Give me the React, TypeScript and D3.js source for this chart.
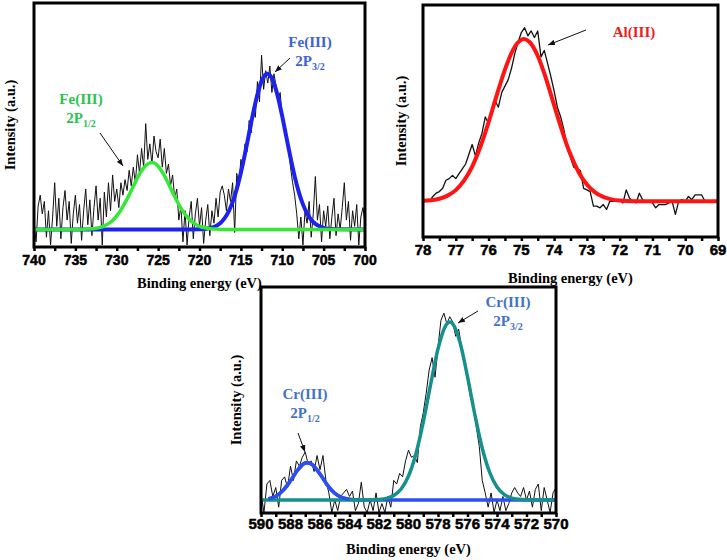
import { useEffect, useRef } from "react"
import * as d3 from "d3"

type Pt = [number, number]

// Fe 2p scan: raw intensity every 0.25 eV from 740 eV down to 700 eV
const feStart = 740
const feStep = -0.25
const feRaw = [
  0.05, -0.08, 0.15, 0.22, 0.10, 0.18, -0.05, 0.12, -0.10, 0.08, 0.30, 0.02,
  0.20, -0.06, 0.14, 0.25, 0.06, 0.18, -0.09, 0.10, 0.22, 0.04, 0.16, -0.07,
  0.12, 0.26, 0.03, 0.19, -0.04, 0.14, 0.28, 0.06, 0.20, -0.10, 0.24, 0.08,
  0.30, 0.12, 0.35, 0.18, 0.26, 0.14, 0.30, 0.22, 0.32, 0.25, 0.38, 0.28,
  0.40, 0.30, 0.48, 0.36, 0.52, 0.40, 0.68, 0.45, 0.55, 0.42, 0.60, 0.50,
  0.46, 0.58, 0.40, 0.52, 0.36, 0.42, 0.28, 0.35, 0.20, 0.26, 0.06, 0.15,
  -0.08, 0.12, -0.10, 0.08, 0.18, -0.06, 0.10, 0.20, 0.02, 0.14, -0.09, 0.06,
  0.16, -0.04, 0.12, 0.04, 0.20, 0.08, 0.24, 0.28, 0.22, 0.12, 0.26, 0.18,
  0.30, -0.02, 0.36, 0.28, 0.45, 0.40, 0.55, 0.50, 0.70, 0.62, 0.78, 0.72,
  0.95, 0.82, 1.12, 0.90, 1.02, 0.94, 1.05, 0.88, 1.00, 0.92, 0.84, 0.88,
  0.72, 0.66, 0.58, 0.52, 0.40, 0.30, 0.22, 0.10, -0.06, 0.08, -0.10, 0.12,
  0.04, 0.18, -0.05, 0.10, 0.34, 0.06, 0.16, -0.08, 0.12, 0.02, 0.15, -0.06,
  0.08, 0.20, -0.04, 0.10, 0.00, 0.14, 0.30, 0.06, 0.18, -0.07, 0.12, 0.02,
  0.16, -0.10, 0.08, 0.14, 0.04,
]

// fitted Fe(III) 2p3/2 component (energy, intensity)
const feBlueFit: Pt[] = [
  [740, 0], [722, 0], [720, 0.001], [719.5, 0.003], [719, 0.006], [718.5, 0.012],
  [718, 0.022], [717.5, 0.040], [717, 0.069], [716.5, 0.113], [716, 0.175],
  [715.5, 0.259], [715, 0.364], [714.5, 0.487], [714, 0.620], [713.5, 0.752],
  [713, 0.867], [712.5, 0.953], [712, 0.996], [711.8, 1.0], [711.5, 0.991],
  [711, 0.939], [710.5, 0.846], [710, 0.726], [709.5, 0.593], [709, 0.461],
  [708.5, 0.341], [708, 0.240], [707.5, 0.161], [707, 0.103], [706.5, 0.062],
  [706, 0.036], [705.5, 0.020], [705, 0.010], [704.5, 0.005], [704, 0.0025],
  [703, 0.0005], [700, 0],
]

// fitted Fe(III) 2p1/2 component
const feGreenFit: Pt[] = [
  [740, 0], [735, 0], [734, 0.001], [733.5, 0.002], [733, 0.004], [732.5, 0.007],
  [732, 0.013], [731.5, 0.023], [731, 0.037], [730.5, 0.058], [730, 0.087],
  [729.5, 0.125], [729, 0.170], [728.5, 0.222], [728, 0.277], [727.5, 0.331],
  [727, 0.377], [726.5, 0.411], [726, 0.428], [725.8, 0.43], [725.5, 0.427],
  [725, 0.406], [724.5, 0.369], [724, 0.321], [723.5, 0.266], [723, 0.211],
  [722.5, 0.160], [722, 0.116], [721.5, 0.081], [721, 0.053], [720.5, 0.034],
  [720, 0.020], [719.5, 0.012], [719, 0.007], [718.5, 0.003], [718, 0.002],
  [717, 0], [700, 0],
]
const feTicks = [740, 735, 730, 725, 720, 715, 710, 705, 700]

// Al 2p scan: raw intensity every 0.1 eV from 78 eV down to 69 eV
const alStart = 78
const alStep = -0.1
const alRaw = [
  0.00, 0.01, 0.00, 0.03, 0.05, 0.06, 0.08, 0.13, 0.14, 0.16,
  0.14, 0.17, 0.20, 0.23, 0.29, 0.35, 0.28, 0.36, 0.42, 0.52,
  0.48, 0.55, 0.62, 0.58, 0.67, 0.71, 0.75, 0.82, 0.91, 0.98,
  1.04, 1.07, 1.02, 1.05, 1.01, 1.05, 0.89, 0.93, 0.85, 0.77,
  0.68, 0.58, 0.52, 0.44, 0.33, 0.27, 0.21, 0.20, 0.19, 0.08,
  0.07, 0.06, -0.03, -0.03, -0.04, -0.02, -0.05, 0.00, 0.00, 0.00,
  0.01, -0.01, 0.07, 0.02, 0.00, -0.01, 0.05, 0.01, 0.00, 0.00,
  -0.01, -0.04, -0.02, -0.02, -0.02, -0.01, 0.00, -0.08, 0.00, 0.01,
  0.00, 0.03, 0.01, 0.04, 0.04, 0.04, 0.00, 0.00, 0.00, 0.00,
  0.00,
]
const alFit: Pt[] = [
  [78, 0.003], [77.75, 0.007], [77.5, 0.016], [77.25, 0.035], [77, 0.069],
  [76.75, 0.127], [76.5, 0.214], [76.25, 0.336], [76, 0.487], [75.75, 0.654],
  [75.5, 0.812], [75.25, 0.935], [75, 0.996], [74.92, 1.0], [74.75, 0.982],
  [74.5, 0.897], [74.25, 0.758], [74, 0.593], [73.75, 0.430], [73.5, 0.288],
  [73.25, 0.179], [73, 0.103], [72.75, 0.055], [72.5, 0.027], [72.25, 0.012],
  [72, 0.005], [71.5, 0.001], [71, 0], [69, 0],
]
const alTicks = [78, 77, 76, 75, 74, 73, 72, 71, 70, 69]

// Cr 2p scan: raw intensity every 0.2 eV from 590 eV down to 570 eV
const crStart = 590
const crStep = -0.2
const crRaw = [
  0.04, -0.07, 0.09, 0.11, 0.02, 0.07, -0.04, 0.11, 0.13, 0.07,
  0.19, 0.11, 0.22, 0.19, 0.24, 0.27, 0.20, 0.22, 0.16, 0.25,
  0.17, 0.25, 0.11, 0.04, -0.07, 0.00, -0.06, 0.02, 0.04, 0.06,
  0.02, 0.05, -0.06, -0.02, 0.10, -0.04, -0.07, 0.00, -0.06, 0.04,
  -0.07, -0.02, -0.07, 0.02, -0.04, 0.11, 0.09, 0.15, 0.13, 0.22,
  0.28, 0.24, 0.25, 0.21, 0.41, 0.49, 0.60, 0.73, 0.80, 0.69,
  0.86, 1.01, 1.05, 0.99, 1.03, 1.00, 0.92, 0.96, 0.86, 0.77,
  0.67, 0.58, 0.52, 0.41, 0.30, 0.11, 0.04, -0.04, 0.04, -0.07,
  0.00, -0.06, 0.02, -0.06, -0.02, 0.04, 0.07, 0.04, 0.02, 0.07,
  0.00, 0.05, -0.04, 0.06, 0.09, -0.06, 0.07, 0.00, -0.07, 0.04,
  0.07,
]
const crTealFit: Pt[] = [
  [590, 0], [584, 0], [583, 0.0002], [582.5, 0.001], [582, 0.003], [581.5, 0.009],
  [581, 0.025], [580.5, 0.062], [580, 0.135], [579.5, 0.259], [579, 0.438],
  [578.5, 0.650], [578, 0.849], [577.5, 0.977], [577.2, 1.0], [577, 0.990],
  [576.5, 0.883], [576, 0.693], [575.5, 0.479], [575, 0.291], [574.5, 0.156],
  [574, 0.073], [573.5, 0.030], [573, 0.011], [572.5, 0.004], [572, 0.001],
  [571, 0], [570, 0],
]
const crBlueFit: Pt[] = [
  [589.5, 0.006], [589, 0.021], [588.5, 0.054], [588, 0.108], [587.5, 0.170],
  [587, 0.208], [586.85, 0.21], [586.5, 0.198], [586, 0.146], [585.5, 0.084],
  [585, 0.038], [584.5, 0.013], [584, 0.004], [583.5, 0.001], [583, 0], [570, 0],
]
const crTicks = [590, 588, 586, 584, 582, 580, 578, 576, 574, 572, 570]

const rawPoints = (start: number, step: number, values: number[]): Pt[] =>
  values.map((v, i) => [start + step * i, v])

interface Layer {
  points: Pt[]
  color: string
  width: number
  raw?: boolean
}

interface PeakLabel {
  head: string
  sub?: string
  color: string
  x: number
  y: number
  arrow: [number, number, number, number]
}

interface Panel {
  id: string
  box: { left: number; right: number; top: number; bottom: number }
  xDomain: [number, number]
  yDomain: [number, number]
  ticks: number[]
  minorStep: number
  tickFont: number
  tickGap: number
  xTitleY: number
  yTitleX: number
  layers: Layer[]
  labels: PeakLabel[]
}

const panels: Panel[] = [
  {
    id: "fe",
    box: { left: 34, right: 365, top: 3, bottom: 247 },
    xDomain: [740, 700],
    yDomain: [-0.113, 1.455],
    ticks: feTicks,
    minorStep: 2.5,
    tickFont: 14,
    tickGap: 18,
    xTitleY: 288,
    yTitleX: 15,
    layers: [
      { points: rawPoints(feStart, feStep, feRaw), color: "#111", width: 1, raw: true },
      { points: feBlueFit, color: "#1d22ee", width: 4 },
      { points: feGreenFit, color: "#35e835", width: 3.5 },
    ],
    labels: [
      { head: "Fe(III)", sub: "1/2", color: "#2cc24f", x: 81, y: 104, arrow: [100, 133, 123, 166] },
      { head: "Fe(III)", sub: "3/2", color: "#3c62d8", x: 310, y: 47, arrow: [290, 58, 275, 72] },
    ],
  },
  {
    id: "al",
    box: { left: 423, right: 718, top: 5, bottom: 237 },
    xDomain: [78, 69],
    yDomain: [-0.22, 1.21],
    ticks: alTicks,
    minorStep: 0.5,
    tickFont: 15,
    tickGap: 18,
    xTitleY: 283,
    yTitleX: 406,
    layers: [
      { points: rawPoints(alStart, alStep, alRaw), color: "#111", width: 1.3, raw: true },
      { points: alFit, color: "#ff1414", width: 4 },
    ],
    labels: [
      { head: "Al(III)", color: "#ee1c1c", x: 634, y: 37, arrow: [586, 30, 548, 45] },
    ],
  },
  {
    id: "cr",
    box: { left: 261, right: 556, top: 287, bottom: 513 },
    xDomain: [590, 570],
    yDomain: [-0.073, 1.197],
    ticks: crTicks,
    minorStep: 1,
    tickFont: 15,
    tickGap: 16,
    xTitleY: 554,
    yTitleX: 241,
    layers: [
      { points: rawPoints(crStart, crStep, crRaw), color: "#111", width: 1, raw: true },
      { points: crBlueFit, color: "#2b4ff0", width: 3.5 },
      { points: crTealFit, color: "#16908a", width: 3.5 },
      { points: crBlueFit.filter((d) => d[0] >= 584), color: "#2b4ff0", width: 3.5 },
    ],
    labels: [
      { head: "Cr(III)", sub: "1/2", color: "#4472c4", x: 305, y: 399, arrow: [298, 433, 305, 452] },
      { head: "Cr(III)", sub: "3/2", color: "#4472c4", x: 508, y: 307, arrow: [478, 311, 458, 323] },
    ],
  },
]

const serif = "'Liberation Serif', 'Times New Roman', serif"
const sans = "'Liberation Sans', Arial, sans-serif"

export default function App() {
  const ref = useRef<SVGSVGElement | null>(null)

  useEffect(() => {
    const svg = d3.select(ref.current)
    svg.selectAll("*").remove()

    svg
      .append("defs")
      .append("marker")
      .attr("id", "arrowhead")
      .attr("viewBox", "0 0 10 8")
      .attr("refX", 10)
      .attr("refY", 4)
      .attr("markerWidth", 7)
      .attr("markerHeight", 6)
      .attr("markerUnits", "userSpaceOnUse")
      .attr("orient", "auto")
      .append("path")
      .attr("d", "M0,0 L10,4 L0,8 Z")
      .attr("fill", "#111")

    panels.forEach((p) => {
      const { left, right, top, bottom } = p.box
      const x = d3.scaleLinear().domain(p.xDomain).range([left, right])
      const y = d3.scaleLinear().domain(p.yDomain).range([bottom, top])
      const g = svg.append("g")

      g.append("clipPath")
        .attr("id", `clip-${p.id}`)
        .append("rect")
        .attr("x", left)
        .attr("y", top)
        .attr("width", right - left)
        .attr("height", bottom - top)

      const plot = g.append("g").attr("clip-path", `url(#clip-${p.id})`)

      p.layers.forEach((layer) => {
        const line = d3
          .line<Pt>()
          .x((d) => x(d[0]))
          .y((d) => y(d[1]))
          .curve(layer.raw ? d3.curveLinear : d3.curveMonotoneX)
        plot
          .append("path")
          .datum(layer.points)
          .attr("d", line)
          .attr("fill", "none")
          .attr("stroke", layer.color)
          .attr("stroke-width", layer.width)
          .attr("stroke-linejoin", "round")
      })

      // minor + major ticks, pointing out of the frame
      const [x0, x1] = p.xDomain
      const minor = d3.range(x1, x0 + p.minorStep / 2, p.minorStep)
      const axis = g.append("g").attr("transform", `translate(0,${bottom})`)
      axis
        .call(d3.axisBottom(x).tickValues(minor).tickSize(4).tickFormat(() => ""))
        .call((a) => a.select(".domain").remove())
      axis.selectAll("line").attr("stroke", "#000").attr("stroke-width", 2.5)

      g.selectAll(null)
        .data(p.ticks)
        .enter()
        .append("text")
        .attr("x", (d) => x(d))
        .attr("y", bottom + p.tickGap)
        .attr("text-anchor", "middle")
        .attr("stroke", "#000")
        .attr("stroke-width", 0.5)
        .style("font-family", sans)
        .style("font-weight", "bold")
        .style("font-size", `${p.tickFont}px`)
        .text((d) => String(d))

      g.append("rect")
        .attr("x", left)
        .attr("y", top)
        .attr("width", right - left)
        .attr("height", bottom - top)
        .attr("fill", "none")
        .attr("stroke", "#000")
        .attr("stroke-width", 3)

      g.append("text")
        .attr("x", (left + right) / 2)
        .attr("y", p.xTitleY)
        .attr("text-anchor", "middle")
        .style("font-family", serif)
        .style("font-weight", "bold")
        .style("font-size", "14.5px")
        .text("Binding energy (eV)")

      g.append("text")
        .attr("transform", `translate(${p.yTitleX},${(top + bottom) / 2}) rotate(-90)`)
        .attr("text-anchor", "middle")
        .style("font-family", serif)
        .style("font-weight", "bold")
        .style("font-size", "14.5px")
        .text("Intensity (a.u.)")

      p.labels.forEach((lab) => {
        g.append("text")
          .attr("text-anchor", "middle")
          .attr("x", lab.x)
          .attr("y", lab.y)
          .style("font-family", serif)
          .style("font-weight", "bold")
          .style("font-size", "15px")
          .attr("fill", lab.color)
          .text(lab.head)
        if (lab.sub) {
          const second = g
            .append("text")
            .attr("text-anchor", "middle")
            .attr("x", lab.x)
            .attr("y", lab.y + 19)
            .style("font-family", serif)
            .style("font-weight", "bold")
            .style("font-size", "15px")
            .attr("fill", lab.color)
          second.append("tspan").text("2P")
          second.append("tspan").attr("dy", 4).style("font-size", "10px").text(lab.sub)
        }
        const [ax1, ay1, ax2, ay2] = lab.arrow
        g.append("line")
          .attr("x1", ax1)
          .attr("y1", ay1)
          .attr("x2", ax2)
          .attr("y2", ay2)
          .attr("stroke", "#111")
          .attr("stroke-width", 1)
          .attr("marker-end", "url(#arrowhead)")
      })
    })
  }, [])

  return (
    <div style={{ position: "absolute", left: 0, top: 0, background: "#fff" }}>
      <svg ref={ref} width={727} height={560} />
    </div>
  )
}
